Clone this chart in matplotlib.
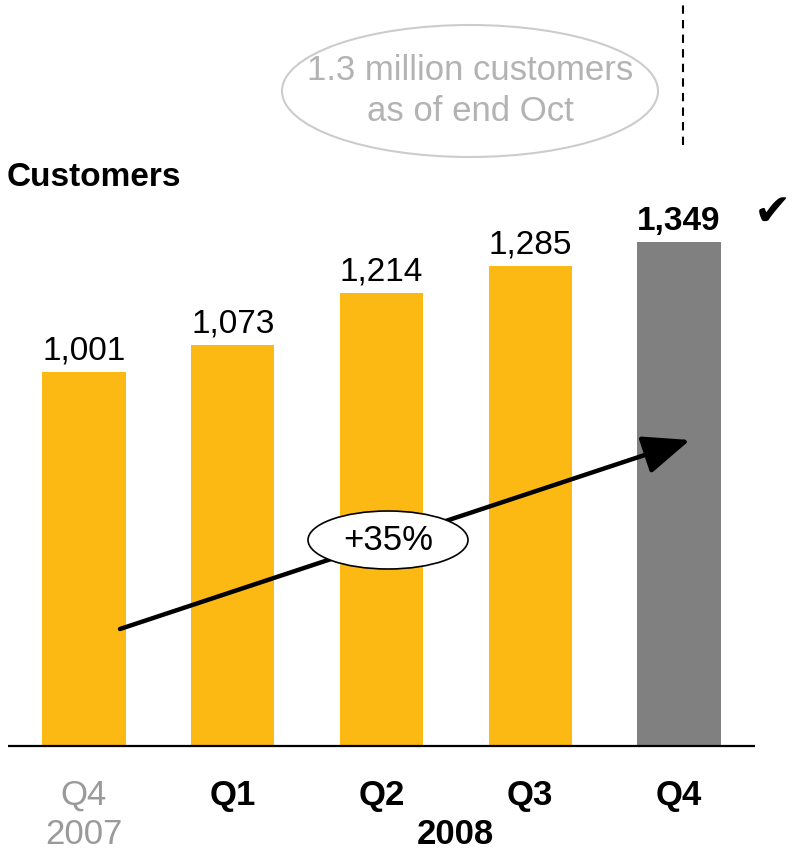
import matplotlib
matplotlib.use("Agg")
import matplotlib.pyplot as plt
from matplotlib.patches import Ellipse, FancyArrowPatch

plt.rcParams['font.family'] = ['Liberation Sans', 'DejaVu Sans']

quarters = ["Q4", "Q1", "Q2", "Q3", "Q4"]
years = ["2007", "2008"]
customers = [1001, 1073, 1214, 1285, 1349]
growth_label = "+35%"
callout = "1.3 million customers\nas of end Oct"

YELLOW = "#FDB913"
GREY = "#808080"
LIGHT = "#9a9a9a"

W, H = 793, 850
fig = plt.figure(figsize=(W / 100, H / 100), dpi=100)
ax = fig.add_axes([0, 0, 1, 1])
ax.set_axis_off()

# pixel layout -> data scale
x0_px, step_px = 84, 148.75
base_px, px_per_unit = 746, 0.3735
ax.set_xlim(-x0_px / step_px, (W - x0_px) / step_px)
ax.set_ylim(-(H - base_px) / px_per_unit, base_px / px_per_unit)

def px(xp, yp):
    return (xp - x0_px) / step_px, (base_px - yp) / px_per_unit

xs = list(range(len(customers)))
colors = [YELLOW] * (len(customers) - 1) + [GREY]
bars = ax.bar(xs, customers, width=0.56, color=colors, zorder=2)

for i, (b, v) in enumerate(zip(bars, customers)):
    last = i == len(customers) - 1
    ax.annotate(f"{v:,}", (b.get_x() + b.get_width() / 2, v),
                xytext=(0, 4), textcoords="offset points",
                ha="center", va="bottom", fontsize=24,
                fontweight="bold" if last else "normal", color="black")

# baseline
bx0, _ = px(8, 0)
bx1, _ = px(755, 0)
ax.plot([bx0, bx1], [0, 0], color="black", lw=1.6, zorder=3, solid_capstyle="butt")

# category labels
_, yq = px(0, 795)
_, yy = px(0, 834)
for i, q in enumerate(quarters):
    first = i == 0
    ax.text(i, yq, q, ha="center", va="center", fontsize=25,
            color=LIGHT if first else "black",
            fontweight="normal" if first else "bold")
ax.text(0, yy, years[0], ha="center", va="center", fontsize=25, color=LIGHT)
ax.text((1 + len(quarters) - 1) / 2, yy, years[1], ha="center", va="center",
        fontsize=25, color="black", fontweight="bold")

# title
tx, ty = px(7, 178)
ax.text(tx, ty, "Customers", ha="left", va="center", fontsize=24, fontweight="bold")

# growth arrow
a0 = px(120, 629)
a1 = px(690, 440)
arrow = FancyArrowPatch(a0, a1, arrowstyle="-|>,head_length=1.7,head_width=0.7",
                        mutation_scale=17, color="black", lw=3.2, zorder=4,
                        shrinkA=0, shrinkB=0)
ax.add_patch(arrow)

# growth badge
ex, ey = px(388, 540)
ax.add_patch(Ellipse((ex, ey), 160 / step_px, 58 / px_per_unit,
                     facecolor="white", edgecolor="black", lw=1.2, zorder=5))
ax.text(ex, ey, growth_label, ha="center", va="center", fontsize=25, zorder=6)

# callout bubble
cx, cy = px(470, 91)
ax.add_patch(Ellipse((cx, cy), 376 / step_px, 132 / px_per_unit,
                     facecolor="white", edgecolor="#cccccc", lw=1.5, zorder=5))
ax.text(cx, cy, callout, ha="center", va="center", fontsize=25,
        color="#b3b3b3", linespacing=1.3, zorder=6)

# dashed divider
dx, dtop = px(683, 0)
_, dbot = px(683, 145)
ax.plot([dx, dx], [dbot, dtop], color="black", lw=1.5, ls=(0, (4, 3)), zorder=3)

# check mark
kx, ky = px(772, 212)
ax.text(kx, ky, "\u2714", ha="center", va="center", fontsize=32,
        family=["DejaVu Sans"], color="black")

fig.savefig("out.png", dpi=100)
